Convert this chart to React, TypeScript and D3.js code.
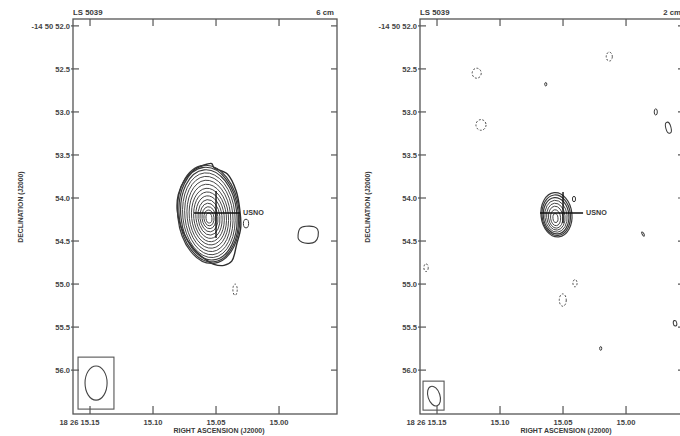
import React from "react";
import * as d3 from "d3";

// Source and axis annotation
const SOURCE = "LS 5039";
const raTicks = [15.15, 15.1, 15.05, 15.0];
const raTickLabels = ["18 26 15.15", "15.10", "15.05", "15.00"];
const decTicks = [52.0, 52.5, 53.0, 53.5, 54.0, 54.5, 55.0, 55.5, 56.0];
const decTickLabels = ["-14 50 52.0", "52.5", "53.0", "53.5", "54.0", "54.5", "55.0", "55.5", "56.0"];

// Map field: RA seconds (east → west) and Dec arcsec below -14 50 00
const raExtent = [15.1635, 14.954];
const decExtent = [51.92, 56.51];

// one second of RA in arcsec at this declination
const ARCSEC_PER_SEC = 15 * Math.cos(((14 + 50 / 60 + 54 / 3600) * Math.PI) / 180);

// USNO optical position and its error cross (RA sec, Dec arcsec)
const usnoRa = 15.05;
const usnoDec = 54.174;

// ---- 6 cm map ----
// nested contour rings: centre RA, centre Dec, semi-axes (arcsec)
const ring6Ra = [15.0559, 15.0558, 15.0557, 15.0557, 15.0557, 15.0557, 15.0557, 15.0556, 15.0556, 15.0556, 15.0556, 15.0556, 15.0556, 15.0556, 15.0556];
const ring6Dec = [54.19, 54.193, 54.196, 54.2, 54.204, 54.208, 54.212, 54.216, 54.219, 54.222, 54.225, 54.227, 54.229, 54.231, 54.233];
const ring6A = [0.355, 0.34, 0.322, 0.3, 0.276, 0.25, 0.225, 0.2, 0.175, 0.15, 0.126, 0.103, 0.08, 0.058, 0.034];
const ring6B = [0.572, 0.552, 0.526, 0.494, 0.457, 0.416, 0.373, 0.33, 0.29, 0.248, 0.207, 0.167, 0.128, 0.092, 0.058];
// lowest contour of the core
const edge6: [number, number][] = [
  [15.0574, 53.608], [15.0534, 53.6], [15.0516, 53.647], [15.0410, 53.722], [15.0340, 53.919],
  [15.031, 54.151], [15.0304, 54.344], [15.0336, 54.538], [15.0375, 54.733], [15.0437, 54.783],
  [15.0516, 54.771], [15.0595, 54.701], [15.068, 54.585], [15.076, 54.399], [15.0807, 54.151],
  [15.0799, 53.957], [15.0746, 53.783], [15.0667, 53.666], [15.0614, 53.628],
];
// component to the west
const knot6: [number, number][] = [
  [14.9849, 54.434], [14.9833, 54.352], [14.9786, 54.329], [14.9722, 54.335], [14.9694, 54.364],
  [14.969, 54.445], [14.9714, 54.509], [14.9762, 54.527], [14.9817, 54.515], [14.9845, 54.48],
];
// small positive contours: RA, Dec, a, b, angle
const spots6: [number, number, number, number, number][] = [[15.0262, 54.297, 0.03, 0.05, 0]];
// negative contours
const neg6: [number, number, number, number][] = [[15.0349, 55.065, 0.025, 0.065]];
// restoring beam: RA, Dec, a, b, angle; and its box corners
const beam6 = [15.1452, 56.151, 0.127, 0.198, 0];
const beamBox6 = [15.1595, 55.849, 15.131, 56.453];
const cross6 = [15.0675, 15.031, 53.919, 54.465];

// ---- 2 cm map ----
const ring2Ra = [15.0552, 15.0554, 15.0555, 15.0556, 15.0557, 15.0558, 15.0559, 15.056];
const ring2Dec = [54.195, 54.2, 54.206, 54.212, 54.217, 54.223, 54.229, 54.233];
const ring2A = [0.178, 0.163, 0.147, 0.128, 0.106, 0.083, 0.058, 0.029];
const ring2B = [0.258, 0.236, 0.212, 0.186, 0.157, 0.128, 0.093, 0.052];
const spots2: [number, number, number, number, number][] = [
  [15.0413, 54.012, 0.018, 0.032, 0],
  [15.0637, 52.678, 0.012, 0.02, 0],
  [14.9764, 53.0, 0.018, 0.036, 0],
  [14.9664, 53.183, 0.03, 0.066, -15],
  [14.9865, 54.419, 0.01, 0.028, -30],
  [15.0201, 55.748, 0.012, 0.022, 0],
  [14.9611, 55.456, 0.02, 0.032, -10],
];
const neg2: [number, number, number, number][] = [
  [15.1185, 52.55, 0.052, 0.058],
  [15.1151, 53.151, 0.058, 0.062],
  [15.0133, 52.357, 0.035, 0.052],
  [15.0405, 54.99, 0.024, 0.042],
  [15.0502, 55.186, 0.04, 0.072],
  [15.1587, 54.81, 0.025, 0.045],
];
const beam2 = [15.1524, 56.302, 0.069, 0.118, -18];
const beamBox2 = [15.1611, 56.128, 15.1444, 56.465];
const cross2 = [15.0683, 15.0341, 53.93, 54.29];

const FONT = "'Liberation Sans', Arial, sans-serif";
const INK = "#3a3a3a";
const AXIS = "#555";

type Spot = [number, number, number, number, number];

interface PanelProps {
  ox: number;
  band: string;
  rings: { ra: number[]; dec: number[]; a: number[]; b: number[] };
  edge?: [number, number][];
  knot?: [number, number][];
  spots: Spot[];
  neg: [number, number, number, number][];
  beam: number[];
  beamBox: number[];
  cross: number[];
}

function Panel({ ox, band, rings, edge, knot, spots, neg, beam, beamBox, cross }: PanelProps) {
  const left = ox + 73;
  const right = ox + 337;
  const top = 19;
  const bottom = 414;
  const x = d3.scaleLinear().domain(raExtent).range([left, right]);
  const y = d3.scaleLinear().domain(decExtent).range([top, bottom]);
  const rx = (ra: number, a: number) => Math.abs(x(ra + a / ARCSEC_PER_SEC) - x(ra));
  const ry = (dec: number, b: number) => Math.abs(y(dec + b) - y(dec));
  const closed = d3
    .line<[number, number]>()
    .x((d) => x(d[0]))
    .y((d) => y(d[1]))
    .curve(d3.curveCatmullRomClosed.alpha(0.5));
  const tilt = -6;

  const ell = (ra: number, dec: number, a: number, b: number, ang: number, key: string, extra: any = {}) => {
    const cx = x(ra);
    const cy = y(dec);
    return (
      <ellipse
        key={key}
        cx={cx}
        cy={cy}
        rx={rx(ra, a)}
        ry={ry(dec, b)}
        transform={`rotate(${ang} ${cx} ${cy})`}
        fill="none"
        stroke={INK}
        strokeWidth={0.9}
        {...extra}
      />
    );
  };

  return (
    <g>
      {/* contours */}
      {edge && <path d={closed(edge) ?? ""} fill="none" stroke="#2e2e2e" strokeWidth={1.4} />}
      {rings.ra.map((ra, i) => ell(ra, rings.dec[i], rings.a[i], rings.b[i], tilt, `r${i}`, { strokeWidth: i < 3 ? 1.2 : 0.9 }))}
      {knot && <path d={closed(knot) ?? ""} fill="none" stroke={INK} strokeWidth={1.1} />}
      {spots.map((s, i) => ell(s[0], s[1], s[2], s[3], s[4], `s${i}`, { strokeWidth: 1 }))}
      {neg.map((s, i) => ell(s[0], s[1], s[2], s[3], 0, `n${i}`, { strokeDasharray: "2,1.6", strokeWidth: 0.9 }))}

      {/* USNO cross */}
      <line x1={x(cross[0])} x2={x(cross[1])} y1={y(usnoDec)} y2={y(usnoDec)} stroke="#111" strokeWidth={1.4} />
      <line x1={x(usnoRa)} x2={x(usnoRa)} y1={y(cross[2])} y2={y(cross[3])} stroke="#111" strokeWidth={1.4} />
      <text x={x(cross[1]) + 3} y={y(usnoDec) + 2} fontFamily={FONT} fontSize={7.2} fontWeight="bold" fill={INK}>
        USNO
      </text>

      {/* beam */}
      <rect
        x={x(beamBox[0])}
        y={y(beamBox[1])}
        width={x(beamBox[2]) - x(beamBox[0])}
        height={y(beamBox[3]) - y(beamBox[1])}
        fill="none"
        stroke={AXIS}
        strokeWidth={1.1}
      />
      {ell(beam[0], beam[1], beam[2], beam[3], beam[4], "beam", { strokeWidth: 1.1, stroke: "#444" })}

      {/* frame */}
      <rect x={left} y={top} width={right - left} height={bottom - top} fill="none" stroke={AXIS} strokeWidth={1.3} />
      {raTicks.map((t, i) => (
        <g key={`rt${i}`}>
          <line x1={x(t)} x2={x(t)} y1={top} y2={top + 7} stroke={AXIS} strokeWidth={1.2} />
          <line x1={x(t)} x2={x(t)} y1={bottom} y2={bottom - 8} stroke={AXIS} strokeWidth={1.2} />
          <text
            x={i === 0 ? x(t) + 9.5 : x(t)}
            y={425}
            textAnchor={i === 0 ? "end" : "middle"}
            fontFamily={FONT}
            fontSize={7.6}
            fontWeight="bold"
            fill="#444"
          >
            {raTickLabels[i]}
          </text>
        </g>
      ))}
      {decTicks.map((t, i) => (
        <g key={`dt${i}`}>
          <line x1={left - 2} x2={left + 6} y1={y(t)} y2={y(t)} stroke={AXIS} strokeWidth={1.2} />
          <line x1={right} x2={right - 6} y1={y(t)} y2={y(t)} stroke={AXIS} strokeWidth={1.2} />
          <text x={left - 3} y={y(t) + 2.7} textAnchor="end" fontFamily={FONT} fontSize={7.6} fontWeight="bold" fill="#444">
            {decTickLabels[i]}
          </text>
        </g>
      ))}

      {/* titles */}
      <text x={left} y={15} fontFamily={FONT} fontSize={7.8} fontWeight="bold" fill={INK}>
        {SOURCE}
      </text>
      <text x={right - 3} y={15} textAnchor="end" fontFamily={FONT} fontSize={7.8} fontWeight="bold" fill={INK}>
        {band}
      </text>
      <text
        x={ox + 219}
        y={432.5}
        textAnchor="middle"
        fontFamily={FONT}
        fontSize={7}
        fontWeight="bold"
        fill={INK}
      >
        RIGHT ASCENSION (J2000)
      </text>
      <text
        transform={`translate(${ox + 22.5},${207}) rotate(-90)`}
        textAnchor="middle"
        fontFamily={FONT}
        fontSize={6.8}
        fontWeight="bold"
        fill={INK}
      >
        DECLINATION (J2000)
      </text>
    </g>
  );
}

export default function App() {
  return (
    <svg
      width={680}
      height={436}
      viewBox="0 0 680 436"
      style={{ position: "absolute", left: 0, top: 0, background: "#fff", display: "block" }}
    >
      <rect width={680} height={436} fill="#fff" />
      <Panel
        ox={0}
        band="6 cm"
        rings={{ ra: ring6Ra, dec: ring6Dec, a: ring6A, b: ring6B }}
        edge={edge6}
        knot={knot6}
        spots={spots6}
        neg={neg6}
        beam={beam6}
        beamBox={beamBox6}
        cross={cross6}
      />
      <Panel
        ox={347}
        band="2 cm"
        rings={{ ra: ring2Ra, dec: ring2Dec, a: ring2A, b: ring2B }}
        spots={spots2}
        neg={neg2}
        beam={beam2}
        beamBox={beamBox2}
        cross={cross2}
      />
    </svg>
  );
}
